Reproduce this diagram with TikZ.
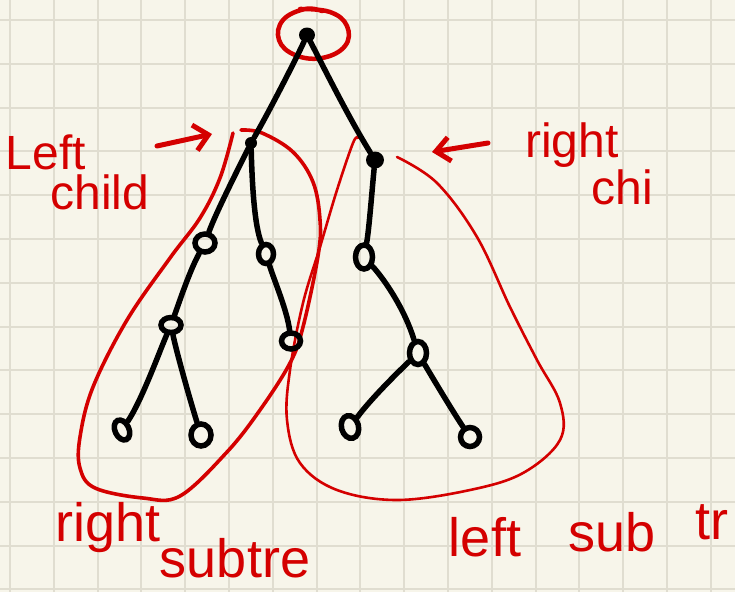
\documentclass[tikz,border=0pt]{standalone}
\usepackage{fontspec}
\setmainfont{Liberation Sans}
\usetikzlibrary{arrows.meta,shapes.geometric}
\definecolor{paper}{RGB}{247,245,234}
\definecolor{gridc}{RGB}{224,221,208}
\definecolor{pen}{RGB}{212,0,0}
\begin{document}
\begin{tikzpicture}[x=1pt,y=-1pt,
  gridline/.style={draw=gridc,line width=2pt},
  ring/.style={ellipse,draw=black,line width=5.5pt,inner sep=0pt},
  dot/.style={ellipse,fill=black,inner sep=0pt},
  edge/.style={draw=black,line width=5.5pt,line cap=round},
  outline/.style={draw=pen,line width=2.6pt,line cap=round},
  redpen/.style={draw=pen,line width=5pt,line cap=round,line join=round},
  note/.style={text=pen,inner sep=0pt,font=\fontsize{48}{48}\selectfont},
  bignote/.style={text=pen,inner sep=0pt,font=\fontsize{54}{54}\selectfont}]
\fill[paper] (0,0) rectangle (735,592);
\useasboundingbox (0,0) rectangle (735,592);
% grid
\foreach \i in {0,...,16} \draw[gridline] ({10+43.8*\i},0) -- ({10+43.8*\i},592);
\foreach \j in {0,...,13} \draw[gridline] (0,{20+43.8*\j}) -- (735,{20+43.8*\j});

% red enclosures
\draw[pen,line width=4.5pt,line cap=round] plot[smooth,tension=0.7] coordinates
  {(300,9) (330,12) (347,26) (345,46) (322,58) (295,55) (279,40) (283,20) (305,9) (322,11)};
\draw[draw=pen,line width=3.6pt,line cap=round] plot[smooth,tension=0.6] coordinates
  {(241,130) (262,133) (293,152) (313,182) (320,220) (318,256) (303,327) (290,363) (260,410) (227,452) (180,496) (143,498) (95,488) (80,468) (80,437) (93,387) (127,320) (170,258) (200,218) (220,178) (233,133)};
\draw[outline] plot[smooth,tension=0.6] coordinates
  {(397,157) (437,183) (477,237) (510,307) (537,360) (560,403) (560,440) (523,473) (470,490) (397,500) (337,490) (300,463) (287,420) (290,370) (303,303) (320,247) (337,190) (353,143) (358,138)};

% tree nodes
\node[dot,minimum width=16pt,minimum height=15pt] (root) at (307,35) {};
\node[dot,minimum width=12pt,minimum height=12pt] (lc) at (251,143) {};
\node[dot,minimum width=18pt,minimum height=17pt] (rc) at (375,160) {};
\node[ring,minimum width=20pt,minimum height=18pt] (ll) at (205,243) {};
\node[ring,minimum width=15pt,minimum height=19pt] (lr) at (266,254) {};
\node[ring,minimum width=20pt,minimum height=15pt] (lll) at (171,325) {};
\node[ring,minimum width=19pt,minimum height=16pt] (lrr) at (291,341) {};
\node[ring,minimum width=14pt,minimum height=21pt,rotate=25] (llll) at (122,430) {};
\node[ring,minimum width=20pt,minimum height=22pt] (lllr) at (201,435) {};
\node[ring,minimum width=17pt,minimum height=24pt] (rl) at (364,257) {};
\node[ring,minimum width=17pt,minimum height=23pt] (rlr) at (418,353) {};
\node[ring,minimum width=17pt,minimum height=23pt,rotate=15] (rlrl) at (350,427) {};
\node[ring,minimum width=19pt,minimum height=19pt] (rlrr) at (470,437) {};

% edges
\draw[edge] (root) .. controls (298,55) and (270,110) .. (lc);
\draw[edge] (root) .. controls (325,70) and (350,120) .. (rc);
\draw[edge] (lc) .. controls (235,175) and (215,215) .. (ll);
\draw[edge] (lc) .. controls (252,180) and (254,225) .. (lr);
\draw[edge] (lr) .. controls (274,280) and (287,310) .. (lrr);
\draw[edge] (ll) .. controls (190,270) and (180,300) .. (lll);
\draw[edge] (lll) .. controls (160,350) and (142,400) .. (llll);
\draw[edge] (lll) .. controls (176,350) and (190,400) .. (lllr);
\draw[edge] (rc) .. controls (372,190) and (369,230) .. (rl);
\draw[edge] (rl) .. controls (385,280) and (405,310) .. (rlr);
\draw[edge] (rlr) .. controls (395,375) and (370,400) .. (rlrl);
\draw[edge] (rlr) .. controls (435,382) and (455,415) .. (rlrr);

% arrows
\coordinate (la0) at (157,146);
\coordinate (la1) at (212,134);
\draw[redpen,-{Straight Barb[length=14pt,width=26pt]}] (la0) -- (la1);
\coordinate (ra0) at (488,143);
\coordinate (ra1) at (432,152);
\draw[redpen,-{Straight Barb[length=14pt,width=24pt]}] (ra0) -- (ra1);

% labels
\node[note] (tleft) at (46,152) {Left};
\node[note] (tchild) at (100,192) {child};
\node[note] (tright) at (572,145) {right};
\node[note] (tchi) at (622,187) {chi};
\node[bignote] (tright2) at (108,528) {right};
\node[bignote] (tsubtre) at (235,558) {subtre};
\node[bignote] (tleft2) at (485,537) {left};
\node[bignote] (tsub) at (612,532) {sub};
\node[bignote] (ttr) at (712,522) {tr};
\end{tikzpicture}
\end{document}
